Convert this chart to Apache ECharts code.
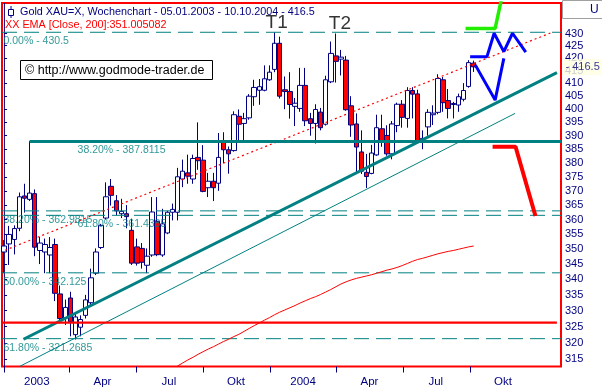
<!DOCTYPE html>
<html><head><meta charset="utf-8">
<script src="https://cdn.jsdelivr.net/npm/echarts@6/dist/echarts.min.js"></script>
<style>html,body{margin:0;padding:0;background:#fff}#c{width:602px;height:390px}</style>
</head><body><div id="c"></div>
<script>
// ---------- data (weekly candles, week ending 05.01.2003 ... 10.10.2004) ----------
const opens  = [349.0,351.7,353.2,357.0,368.2,367.0,369.0,349.5,349.0,348.0,351.5,335.3,327.7,334.0,322.5,324.8,328.5,332.5,342.0,350.5,360.5,371.6,366.5,362.0,362.0,356.3,350.7,350.2,344.6,348.0,359.4,348.0,355.4,362.5,362.5,374.2,376.4,374.2,382.0,381.0,371.1,373.4,372.7,387.5,384.8,384.5,397.3,394.6,396.7,404.8,407.3,407.3,411.4,415.5,426.0,407.5,406.8,401.1,400.3,409.2,396.4,394.6,398.9,394.3,410.6,420.9,419.6,419.2,401.3,394.4,384.0,376.6,376.2,382.9,392.6,390.1,383.3,393.8,401.9,396.5,407.2,405.9,388.2,393.3,397.9,398.8,411.4,403.3,402.2,401.6,403.8,408.8,418.0];
const closes = [351.0,354.9,356.9,367.9,367.4,369.2,350.6,352.0,351.5,350.5,335.5,327.5,331.0,326.5,328.0,327.2,333.4,340.5,349.0,358.0,367.9,368.4,363.0,362.8,361.0,345.3,345.3,345.6,347.6,362.6,348.1,358.5,362.5,363.5,375.0,377.0,375.2,381.6,380.8,369.8,373.4,371.1,382.0,384.8,383.3,397.9,394.3,396.4,405.0,408.4,408.7,411.8,414.4,426.0,405.0,406.8,401.8,402.3,409.2,395.6,394.6,399.9,393.0,411.4,421.9,418.7,420.4,399.8,394.0,385.8,377.0,375.1,383.6,393.0,387.9,383.3,394.4,401.9,396.9,407.2,405.8,388.2,389.0,398.8,398.5,411.9,402.5,400.3,401.8,404.8,407.2,418.2,416.5];
const lows   = [342.0,344.7,348.2,356.0,362.4,366.4,347.6,345.0,342.0,342.0,333.0,326.0,325.5,322.0,321.0,322.0,327.5,331.5,341.4,350.0,360.0,364.8,361.5,360.5,357.0,344.7,344.5,343.5,342.0,347.4,347.6,347.4,355.0,359.7,359.7,371.3,372.5,372.5,377.5,369.5,367.8,366.4,370.0,379.9,376.1,384.1,388.0,388.0,396.0,401.3,401.7,406.9,411.0,414.4,404.1,400.0,396.4,393.6,399.0,393.6,390.0,387.1,392.0,393.8,410.1,410.3,413.1,399.4,389.6,376.6,376.0,371.0,375.9,382.6,385.9,382.6,381.3,391.3,393.0,393.0,396.5,387.5,385.0,390.0,394.0,398.1,399.0,396.5,396.5,399.0,403.0,408.3,414.5];
const highs  = [353.0,357.8,358.0,369.4,372.5,388.0,370.5,354.0,353.5,354.0,353.5,338.0,333.5,336.0,329.5,328.5,335.0,343.5,350.2,358.5,373.0,374.2,368.5,367.2,365.0,360.3,353.5,352.0,350.2,367.8,367.8,363.7,363.0,365.5,378.2,381.2,383.0,383.0,395.0,386.5,376.4,376.4,391.0,391.3,386.0,399.2,399.9,398.6,405.8,411.4,411.7,417.1,417.1,430.5,428.7,412.7,414.4,404.3,416.1,416.1,398.6,401.9,400.5,413.0,426.7,430.0,423.3,420.9,405.0,398.4,392.0,383.3,386.6,397.9,397.9,393.9,395.5,402.5,403.5,408.5,408.5,407.5,392.0,400.0,401.5,413.6,412.5,407.8,402.8,406.0,410.1,419.2,419.0];
// EMA 200 (first value belongs to week index emaStart)
const emaStart = 33;
const ema200 = [312.2,313.0,313.9,314.8,315.6,316.5,317.3,318.1,318.8,319.6,320.4,321.1,321.9,322.6,323.5,324.4,325.3,326.1,327.0,327.8,328.7,329.5,330.2,330.9,331.6,332.4,333.1,333.8,334.4,335.1,335.9,336.7,337.6,338.5,339.2,339.8,340.3,340.7,341.1,341.5,342.0,342.5,343.0,343.4,343.9,344.5,345.2,345.9,346.5,346.9,347.4,347.9,348.4,348.8,349.2,349.5,349.9,350.3,350.7,351.0];
// Fibonacci levels
const fibLevels = [430.5, 387.8115, 362.9815, 361.4385, 342.125, 321.2685];
const fibTexts  = ['0.00% - 430.5','38.20% - 387.8115','38.20% - 362.9815','61.80% - 361.4385','50.00% - 342.125','61.80% - 321.2685'];
// axis tick labels
const priceTicks = [315,320,325,330,335,340,345,350,355,360,365,370,375,380,385,390,395,400,405,410,415,420,425,430];
const quarterStarts = ['2003-01-01','2003-04-01','2003-07-01','2003-10-01','2004-01-01','2004-04-01','2004-07-01','2004-10-01'];
const quarterLabels = ['2003','Apr','Jul','Okt','2004','Apr','Jul','Okt'];
const lastClose = 416.5;
const emaLast = '351.005082';
// drawn annotations: [week index, price]
const trendThick  = [[3.8, 321.1], [108.3, 414.2]];
const trendThin   = [[3.1, 312.9], [100.1, 398.4]];
const trendDotted = [[0.2, 349.6], [107.5, 430.6]];
const resistLine  = [[5, 387.8115], [109.1, 387.8115]];
const supportLine = [[-0.4, 326.2], [108.3, 326.2]];
const bluePath1 = [[91.3, 420.6], [94.6, 420.6], [96.0, 430.1], [97.9, 422.6], [99.6, 430.1], [102.2, 422.4]];
const bluePath2 = [[92.3, 417.3], [96.2, 403.5], [97.9, 419.9]];
const greenPath = [[90.4, 432.1], [96.2, 432.1], [97.6, 446]];
const redPath   = [[95.7, 385.9], [100.2, 385.9], [104.1, 361.2]];
const peaks = [{name: 'T1', idx: 53}, {name: 'T2', idx: 65}];

// ---------- layout / style ----------
const X_MIN = -0.4, X_MAX = 109.1, Y_MIN = 312.84, Y_MAX = 442.71;
const NAVY = '#000080', TEAL = '#008080', RED = '#ff0000';
const FONT = '"Liberation Sans", Arial, sans-serif';
const DAY = 86400000, ORIGIN = Date.parse('2003-01-01');
const weekPos = d => (Date.parse(d) - ORIGIN) / (7 * DAY);
const tickX = quarterStarts.map(weekPos);
const labelX = quarterStarts.map(d => weekPos(d) + 45 / 7);
const fibLabelX = [-0.2, 14.3, -0.2, 14.3, -0.2, -0.2];
const fibRange = [[-0.4, X_MAX], [5, X_MAX], [-0.4, X_MAX], [-0.4, X_MAX], [-0.4, X_MAX], [-0.4, X_MAX]];

function lineSeries(pts, color, width, type, z) {
  return {type: 'line', data: pts, showSymbol: false, symbol: 'none', silent: true, clip: true,
    lineStyle: {color: color, width: width, type: type || 'solid', cap: 'butt'}, z: z || 3};
}

const series = [];
series.push({
  type: 'candlestick', silent: true, barWidth: 5,
  data: opens.map((o, i) => [i, o, closes[i], lows[i], highs[i]]),
  encode: {x: 0, y: [1, 2, 3, 4]},
  itemStyle: {color: '#ffffff', color0: RED, borderColor: NAVY, borderColor0: NAVY, borderWidth: 1},
  z: 2
});
fibLevels.forEach((lv, k) => series.push(lineSeries([[fibRange[k][0], lv], [fibRange[k][1], lv]], TEAL, 1, [15, 7], 3)));
series.push(lineSeries(ema200.map((v, k) => [emaStart + k, v]), RED, 1, 'solid', 3));
series.push(lineSeries(trendDotted, RED, 1.2, [2, 3], 4));
series.push(lineSeries(trendThin, TEAL, 1, 'solid', 4));
series.push(lineSeries(trendThick, TEAL, 3, 'solid', 4));
series.push(lineSeries(resistLine, TEAL, 3, 'solid', 4));
series.push(lineSeries(supportLine, RED, 2.2, 'solid', 4));
series.push(lineSeries(bluePath1, '#0000ff', 3, 'solid', 5));
series.push(lineSeries(bluePath2, '#0000ff', 3, 'solid', 5));
series.push(lineSeries(greenPath, '#22ee00', 3.5, 'solid', 5));
series.push(lineSeries(redPath, RED, 4, 'solid', 5));
// fib labels
series.push({
  type: 'scatter', silent: true, symbolSize: 1, itemStyle: {color: 'rgba(0,0,0,0)'}, z: 6,
  data: fibLevels.map((lv, k) => ({value: [fibLabelX[k], lv], label: {formatter: fibTexts[k]}})),
  label: {show: true, position: 'right', distance: 0, offset: [0, 9], color: TEAL, fontSize: 10.5, fontFamily: FONT}
});
// T1 / T2
series.push({
  type: 'scatter', silent: true, symbolSize: 1, itemStyle: {color: 'rgba(0,0,0,0)'}, z: 6,
  data: peaks.map((p, k) => ({value: [p.idx, highs[p.idx]], label: {formatter: p.name, offset: [k ? 4 : 2, 0]}})),
  label: {show: true, position: 'top', distance: 0, color: '#000', fontSize: 19, fontFamily: FONT}
});
// last price box
series.push({
  type: 'scatter', silent: true, symbolSize: 1, itemStyle: {color: 'rgba(0,0,0,0)'}, z: 10, clip: false,
  data: [[X_MAX, lastClose]],
  label: {show: true, position: 'right', distance: 2, formatter: '- ' + lastClose, color: NAVY, fontSize: 11, fontFamily: FONT,
    backgroundColor: '#ffffe1', padding: [2, 8, 2, 2], lineHeight: 12}
});

const option = {
  animation: false,
  backgroundColor: '#ffffff',
  grid: {left: 2, right: 41, top: 3, bottom: 23.5, show: true, borderColor: RED, borderWidth: 2, backgroundColor: 'transparent', containLabel: false, outerBoundsMode: 'none'},
  xAxis: {
    type: 'value', min: X_MIN, max: X_MAX,
    axisLine: {show: false}, splitLine: {show: false},
    axisTick: {show: true, customValues: tickX, length: 6, lineStyle: {color: NAVY, width: 1}},
    axisLabel: {show: true, customValues: labelX, margin: 9, color: NAVY, fontSize: 11.5, fontFamily: FONT,
      formatter: v => { let b = 0; labelX.forEach((p, k) => { if (Math.abs(p - v) < Math.abs(labelX[b] - v)) b = k; }); return quarterLabels[b]; }}
  },
  yAxis: {
    type: 'log', position: 'right', offset: 2, min: Y_MIN, max: Y_MAX,
    axisLine: {show: true, lineStyle: {color: NAVY, type: 'dotted', width: 1}},
    splitLine: {show: false},
    axisTick: {show: true, customValues: priceTicks, length: 3, inside: false, lineStyle: {color: NAVY}},
    axisLabel: {show: true, customValues: priceTicks, margin: 2, color: NAVY, fontSize: 11, fontFamily: FONT,
      formatter: v => String(Math.round(v))}
  },
  series: series,
  graphic: [
    {type: 'rect', shape: {x: 562.5, y: 0.5, width: 40, height: 18}, style: {fill: '#ffffff', stroke: '#a0a0a0', lineWidth: 1}, z: 100},
    {type: 'text', x: 590, y: 10, style: {text: 'U', fill: NAVY, font: '12px ' + FONT, textVerticalAlign: 'middle'}, z: 101},
    {type: 'rect', shape: {x: 8.5, y: 9.5, width: 5, height: 6}, style: {fill: '#fff', stroke: NAVY, lineWidth: 1}, z: 100},
    {type: 'line', shape: {x1: 11, y1: 6, x2: 11, y2: 9.5}, style: {stroke: NAVY, lineWidth: 1}, z: 100},
    {type: 'line', shape: {x1: 11, y1: 15.5, x2: 11, y2: 18}, style: {stroke: NAVY, lineWidth: 1}, z: 100},
    {type: 'text', x: 20, y: 12, style: {text: 'Gold XAU=X, Wochenchart - 05.01.2003 - 10.10.2004 - ' + lastClose, fill: NAVY, font: '10.8px ' + FONT, textVerticalAlign: 'middle'}, z: 100},
    {type: 'text', x: 5, y: 25, style: {text: 'XX EMA [Close, 200]:' + emaLast, fill: RED, font: '10.8px ' + FONT, textVerticalAlign: 'middle'}, z: 100},
    {type: 'rect', shape: {x: 20.5, y: 60.5, width: 192, height: 19}, style: {fill: '#ffffff', stroke: '#000000', lineWidth: 1}, z: 100},
    {type: 'text', x: 25, y: 70.5, style: {text: '\u00a9 http://www.godmode-trader.de', fill: '#000', font: '12.5px ' + FONT, textVerticalAlign: 'middle'}, z: 101}
  ]
};
const chart = echarts.init(document.getElementById('c'), null, {renderer: 'canvas', width: 602, height: 390});
chart.setOption(option);
</script></body></html>
